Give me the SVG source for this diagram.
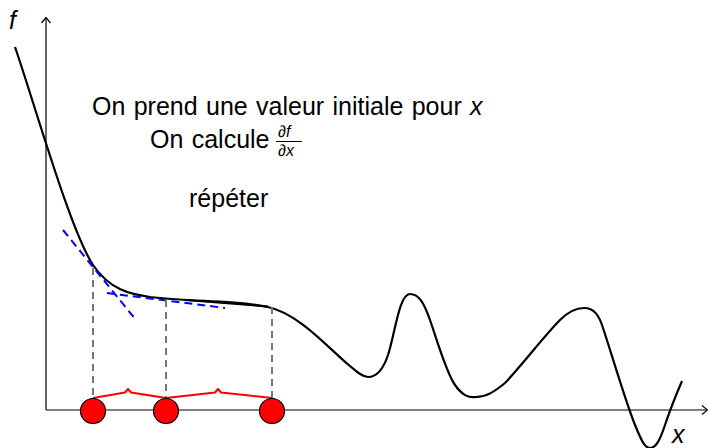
<svg xmlns="http://www.w3.org/2000/svg" width="708" height="448" viewBox="0 0 708 448">
<style>
.txt{font-family:"Liberation Sans",Arial,sans-serif;fill:#000;font-size:25px;word-spacing:1.4px}
.it{font-style:italic}
.frac{font-family:"Liberation Sans",Arial,sans-serif;font-style:italic;font-size:16px;fill:#000}
.axis{stroke:#000;stroke-width:1.2;fill:none}
.curve{stroke:#000;stroke-width:2.2;fill:none;stroke-linejoin:round}
.tan{stroke:#00f;stroke-width:2;stroke-dasharray:8 5;fill:none}
.drop{stroke:#777;stroke-width:2;stroke-dasharray:7 5;fill:none}
.pt{fill:#f00;stroke:#000;stroke-width:1.2}
.brace{stroke:#f00;stroke-width:2;fill:none;stroke-linejoin:round}
</style>
<g id="axes">
<line class="axis" x1="46" y1="410" x2="46" y2="18"/>
<path class="axis" d="M41.5,23 L46,17.5 L50.5,23"/>
<line class="axis" x1="46" y1="410" x2="707" y2="410"/>
<path class="axis" d="M702,405.5 L707.5,410 L702,414.5"/>
<text id="label-f" class="txt it" x="9" y="29" font-size="23">f</text>
<text id="label-x" class="txt it" x="672" y="443" font-size="21">x</text>
</g>
<g id="curve">
<path class="curve" d="M15,47 C35,105 70,230 93,265 C110,290 130,294 150,297 C190,302 240,300 268,307 C300,314 330,350 350,366 C358,373 363,377 368,377 C378,377 384,367 388,355 C395,334 399,294 410,294 C419,294 424,303 430,320 C436,337 446,372 455,385 C462,395 468,398 476,397 C486,397 494,392 505,383 C522,365 545,335 560,320 C570,310 577,308 584,308 C594,308 599,315 603,328 C612,355 625,400 635,425 C642,442 645,448 650,448 C656,448 660,440 665,425 C670,410 676,395 682,381"/>
<line x1="186" y1="300" x2="268" y2="306.5" stroke="#000" stroke-width="2"/>
</g>
<g id="tangents">
<line class="tan" x1="63" y1="230" x2="136" y2="320"/>
<line class="tan" x1="107" y1="293" x2="225" y2="308"/>
</g>
<g id="connectors">
<line class="drop" x1="93" y1="268" x2="93" y2="399"/>
<line class="drop" x1="166" y1="300" x2="166" y2="399"/>
<line class="drop" x1="272" y1="307" x2="272" y2="399"/>
<path class="brace" d="M93,398 L125,392.5 L128,389 L131,392.5 L166,398"/>
<path class="brace" d="M166,398 L215,392.5 L218,389 L221,392.5 L272,398"/>
</g>
<g id="points">
<circle class="pt" cx="93" cy="411" r="12.5"/>
<circle class="pt" cx="166" cy="411" r="12.5"/>
<circle class="pt" cx="272" cy="411" r="12.5"/>
</g>
<g id="text">
<text class="txt" x="92" y="115">On prend une valeur initiale pour <tspan class="it">x</tspan></text>
<text class="txt" x="150" y="148">On calcule</text>
<text class="frac" x="278" y="137" word-spacing="0">∂f</text>
<line x1="276" y1="141.5" x2="302" y2="141.5" stroke="#000" stroke-width="1"/>
<text class="frac" x="278" y="156" word-spacing="0">∂x</text>
<text class="txt" x="189" y="207">répéter</text>
</g>
</svg>
